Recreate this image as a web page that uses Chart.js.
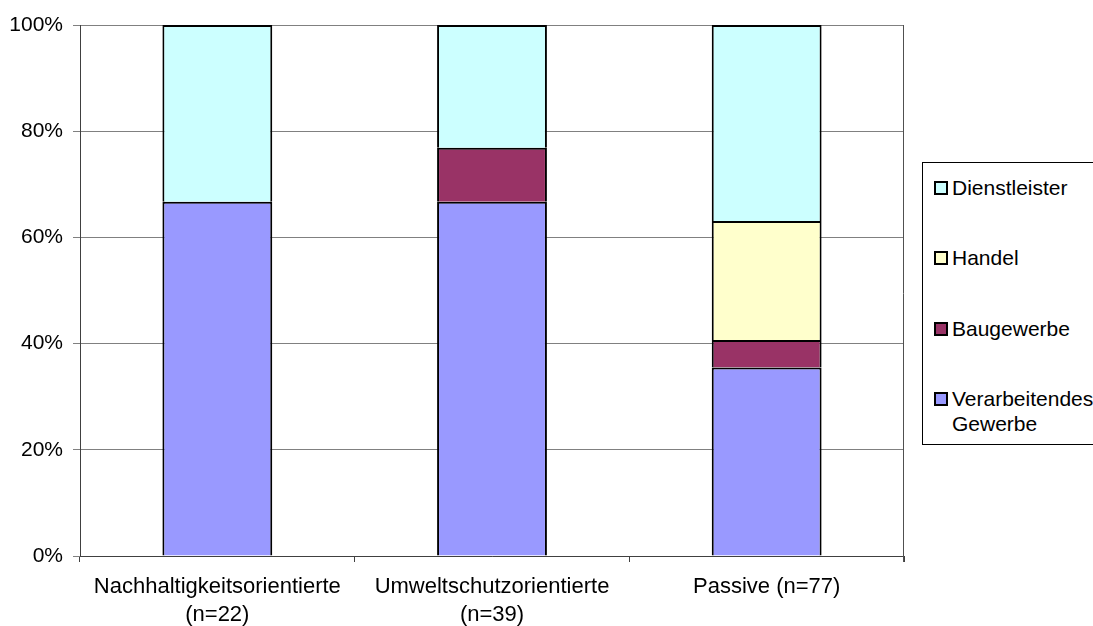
<!DOCTYPE html>
<html>
<head>
<meta charset="utf-8">
<script src="https://cdn.jsdelivr.net/npm/chart.js@4/dist/chart.umd.min.js"></script>
<style>
  html, body { margin: 0; padding: 0; background: #fff; overflow: hidden; }
  #wrap { position: relative; width: 1093px; height: 626px; }
  #chart { position: absolute; left: 0; top: 0; }
  #legend {
    position: absolute; left: 922px; top: 162px; width: 200px; height: 283px;
    border: 1px solid #000; box-sizing: border-box; background: #fff;
    font-family: "Liberation Sans", Arial, sans-serif; font-size: 21px; color: #000;
  }
  .item { position: absolute; left: 11px; }
  .sw { position: absolute; left: 0; width: 10px; height: 10px; border: 2px solid #000; }
  .lbl { position: absolute; left: 18px; line-height: 25px; white-space: nowrap; }
</style>
</head>
<body>
<div id="wrap">
  <canvas id="chart" width="1093" height="626"></canvas>
  <div id="legend"></div>
</div>
<script>
// Company groups and sector shares (percent of each group)
const categories = [
  ['Nachhaltigkeitsorientierte', '(n=22)'],
  ['Umweltschutzorientierte', '(n=39)'],
  ['Passive (n=77)']
];
const seriesNames = ['Verarbeitendes Gewerbe', 'Baugewerbe', 'Handel', 'Dienstleister'];
const verarbeitendes = [66.7, 66.7, 35.5];
const baugewerbe = [null, 10.2, 5.2];
const handel = [null, null, 22.4];
const dienstleister = [33.3, 23.1, 36.9];
const yTicks = [0, 20, 40, 60, 80, 100];

const colors = ['#9999FF', '#993366', '#FFFFCC', '#CCFFFF'];
const values = [verarbeitendes, baugewerbe, handel, dienstleister];

const FONT = '"Liberation Sans", Arial, sans-serif';

// Plot frame: right edge
const frame = {
  id: 'frame',
  afterDraw(chart) {
    const { ctx, chartArea: a } = chart;
    ctx.save();
    ctx.lineWidth = 1;
    ctx.strokeStyle = '#505050';
    ctx.beginPath();
    ctx.moveTo(Math.round(a.right) - 0.5, a.top);
    ctx.lineTo(Math.round(a.right) - 0.5, a.bottom + 6);
    ctx.stroke();
    ctx.restore();
  }
};

new Chart(document.getElementById('chart'), {
  type: 'bar',
  data: {
    labels: categories,
    datasets: seriesNames.map((name, i) => ({
      label: name,
      data: values[i],
      backgroundColor: colors[i],
      borderColor: '#000',
      borderWidth: 2,
      barPercentage: 0.4,
      categoryPercentage: 1.0
    }))
  },
  options: {
    responsive: false,
    animation: false,
    events: [],
    layout: { padding: { left: 0, top: 25, right: 189, bottom: 0 } },
    plugins: { legend: { display: false }, tooltip: { enabled: false } },
    scales: {
      x: {
        stacked: true,
        offset: true,
        grid: { offset: true, drawOnChartArea: false, drawTicks: true, tickLength: 6, color: '#404040' },
        border: { display: true, color: '#404040' },
        ticks: {
          color: '#000', padding: 11, maxRotation: 0, autoSkip: false,
          font: { family: FONT, size: 22, lineHeight: 1.28 }
        },
        afterFit(s) { s.height = 70; }
      },
      y: {
        stacked: true,
        min: 0, max: 100,
        afterBuildTicks(s) { s.ticks = yTicks.map(v => ({ value: v })); },
        grid: { color: '#808080', tickLength: 7, drawTicks: true },
        border: { display: true, color: '#404040' },
        ticks: {
          color: '#000', padding: 10,
          font: { family: FONT, size: 21 },
          callback: v => v + '%'
        },
        afterFit(s) { s.width = 80; }
      }
    }
  },
  plugins: [frame]
});

// Legend, top series first
const legend = document.getElementById('legend');
const legendTops = [12, 82, 153, 223];
seriesNames.slice().reverse().forEach((name, k) => {
  const idx = seriesNames.length - 1 - k;
  const item = document.createElement('div');
  item.className = 'item';
  item.style.top = legendTops[k] + 'px';
  const sw = document.createElement('div');
  sw.className = 'sw';
  sw.style.background = colors[idx];
  sw.style.top = '6px';
  const lbl = document.createElement('div');
  lbl.className = 'lbl';
  lbl.style.top = '0px';
  lbl.innerHTML = name.split(' ').join('<br>');
  item.appendChild(sw);
  item.appendChild(lbl);
  legend.appendChild(item);
});
</script>
</body>
</html>
